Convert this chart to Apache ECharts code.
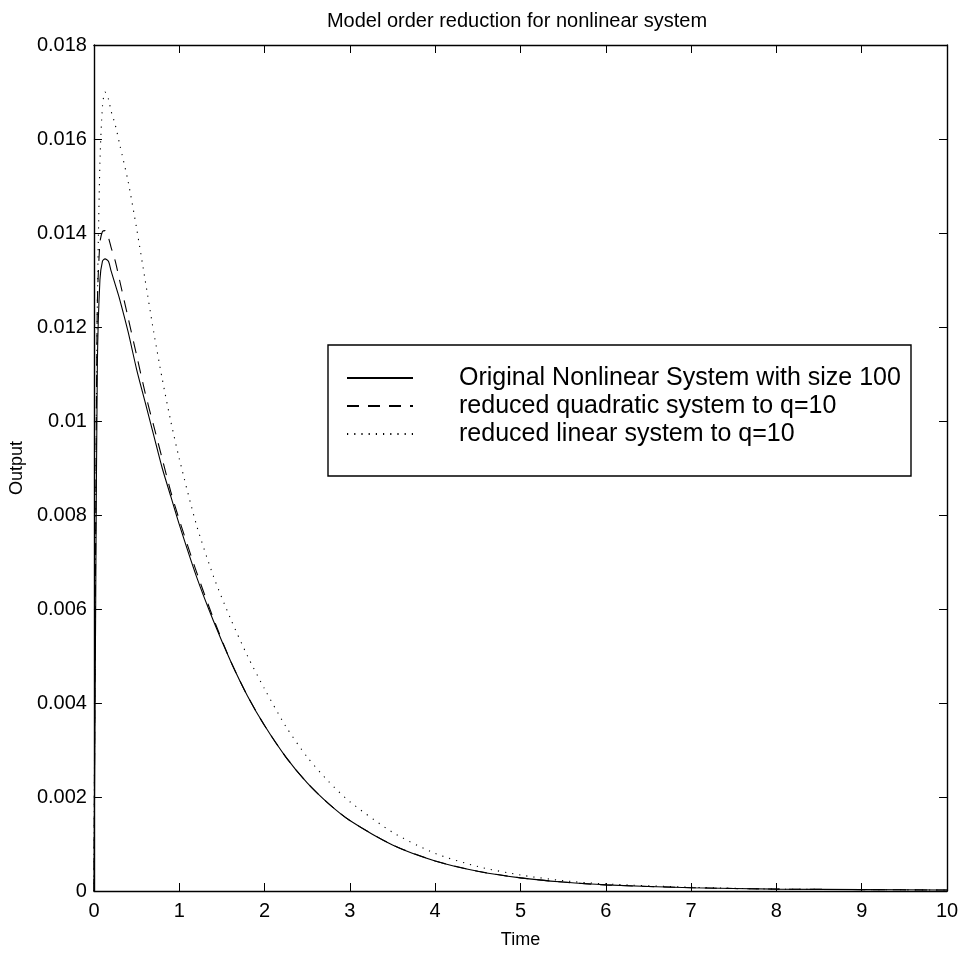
<!DOCTYPE html>
<html>
<head>
<meta charset="utf-8">
<script src="https://cdn.jsdelivr.net/npm/echarts@6/dist/echarts.min.js"></script>
<style>
html,body{margin:0;padding:0;background:#fff;}
#chart{width:962px;height:957px;}
</style>
</head>
<body>
<div id="chart"></div>
<script>
const titleText = 'Model order reduction for nonlinear system';
const xName = 'Time';
const yName = 'Output';
const seriesNames = [
  'Original Nonlinear System with size 100',
  'reduced quadratic system to q=10',
  'reduced linear system to q=10'
];
const time      = [0, 0.02, 0.04, 0.07, 0.1, 0.13, 0.17, 0.2, 0.25, 0.3, 0.4, 0.5, 0.6, 0.7, 0.8, 0.9, 1.0, 1.2, 1.4, 1.6, 1.8, 2.0, 2.25, 2.5, 2.75, 3.0, 3.5, 4.0, 4.5, 5.0, 5.5, 6.0, 7.0, 8.0, 9.0, 10.0];
const original  = [0, 0.0060, 0.0112, 0.0130, 0.0134, 0.01345, 0.0134, 0.0132, 0.0129, 0.0126, 0.0119, 0.0111, 0.0104, 0.0097, 0.0090, 0.0084, 0.0078, 0.0067, 0.00575, 0.0049, 0.00415, 0.00352, 0.00285, 0.0023, 0.00186, 0.0015, 0.00098, 0.00064, 0.00042, 0.00028, 0.00019, 0.00013, 0.00007, 0.00004, 0.00003, 0.00002];
const quadratic = [0, 0.0075, 0.0125, 0.0138, 0.01403, 0.01405, 0.0139, 0.0137, 0.0134, 0.0130, 0.0122, 0.0114, 0.0106, 0.0099, 0.0092, 0.0085, 0.0079, 0.0068, 0.0058, 0.0049, 0.00415, 0.00352, 0.00285, 0.0023, 0.00186, 0.0015, 0.00098, 0.00064, 0.00042, 0.00028, 0.00019, 0.00013, 0.00007, 0.00004, 0.00003, 0.00002];
const linear    = [0, 0.0080, 0.0125, 0.0155, 0.0167, 0.0170, 0.01685, 0.0166, 0.0163, 0.0159, 0.0151, 0.0141, 0.0130, 0.0119, 0.0109, 0.0100, 0.0092, 0.0078, 0.0067, 0.0058, 0.0050, 0.0043, 0.0035, 0.00285, 0.00233, 0.0019, 0.00125, 0.0008, 0.00052, 0.00034, 0.00022, 0.00015, 0.00008, 0.00004, 0.00003, 0.00002];

const FONT = "'Liberation Sans', Arial, Helvetica, sans-serif";
const pair = (vals) => time.map((t, i) => [t, vals[i]]);

const chart = echarts.init(document.getElementById('chart'), null, {renderer: 'canvas'});
const axisLineStyle = {color: '#000', width: 1.4};
const baseX = {
  type: 'value', min: 0, max: 10, interval: 1,
  axisLine: {show: true, onZero: false, lineStyle: axisLineStyle},
  axisTick: {show: true, inside: true, length: 8, lineStyle: {color: '#000', width: 1}},
  splitLine: {show: false}
};
const baseY = {
  type: 'value', min: 0, max: 0.018, interval: 0.002,
  axisLine: {show: true, onZero: false, lineStyle: axisLineStyle},
  axisTick: {show: true, inside: true, length: 8, lineStyle: {color: '#000', width: 1}},
  splitLine: {show: false}
};

chart.setOption({
  animation: false,
  backgroundColor: '#fff',
  title: {
    text: titleText, left: 512, top: 6, textAlign: 'center',
    textStyle: {fontFamily: FONT, fontSize: 20, fontWeight: 'normal', color: '#000'}
  },
  grid: {left: 87, right: 15, top: 45, bottom: 66, containLabel: false},
  legend: {
    orient: 'vertical', left: 328, top: 345,
    data: seriesNames,
    backgroundColor: '#fff',
    borderColor: '#000', borderWidth: 1.4,
    padding: [19, 0, 28, 18],
    itemWidth: 66, itemHeight: 14, itemGap: 0,
    itemStyle: {color: 'rgba(0,0,0,0)', borderColor: 'rgba(0,0,0,0)', borderWidth: 0, opacity: 0},
    textStyle: {fontFamily: FONT, fontSize: 25, color: '#000', padding: [0, 0, 0, 41], lineHeight: 28, width: 452},
    selectedMode: false
  },
  xAxis: [
    Object.assign({}, baseX, {
      position: 'bottom',
      name: xName, nameLocation: 'middle', nameGap: 40,
      nameTextStyle: {fontFamily: FONT, fontSize: 18, color: '#000'},
      axisLabel: {show: true, margin: 10, color: '#000', fontFamily: FONT, fontSize: 20,
        formatter: (v) => String(v)}
    }),
    Object.assign({}, baseX, {position: 'top', axisLabel: {show: false}})
  ],
  yAxis: [
    Object.assign({}, baseY, {
      position: 'left',
      name: yName, nameLocation: 'middle', nameGap: 66, nameRotate: 90,
      nameTextStyle: {fontFamily: FONT, fontSize: 18, color: '#000'},
      axisLabel: {show: true, margin: 7, color: '#000', fontFamily: FONT, fontSize: 20,
        formatter: (v) => String(parseFloat(v.toFixed(3)))}
    }),
    Object.assign({}, baseY, {position: 'right', axisLabel: {show: false}})
  ],
  series: [
    {name: seriesNames[0], type: 'line', data: pair(original),
      showSymbol: false, symbol: 'none', smooth: 0.25, color: '#000',
      lineStyle: {color: '#000', width: 1.1, type: 'solid'}},
    {name: seriesNames[1], type: 'line', data: pair(quadratic),
      showSymbol: false, symbol: 'none', smooth: 0.25, color: '#000',
      lineStyle: {color: '#000', width: 1.1, type: [12, 9]}},
    {name: seriesNames[2], type: 'line', data: pair(linear),
      showSymbol: false, symbol: 'none', smooth: 0.25, color: '#000',
      lineStyle: {color: '#000', width: 1.1, type: [1.2, 6]}}
  ]
});
</script>
</body>
</html>
